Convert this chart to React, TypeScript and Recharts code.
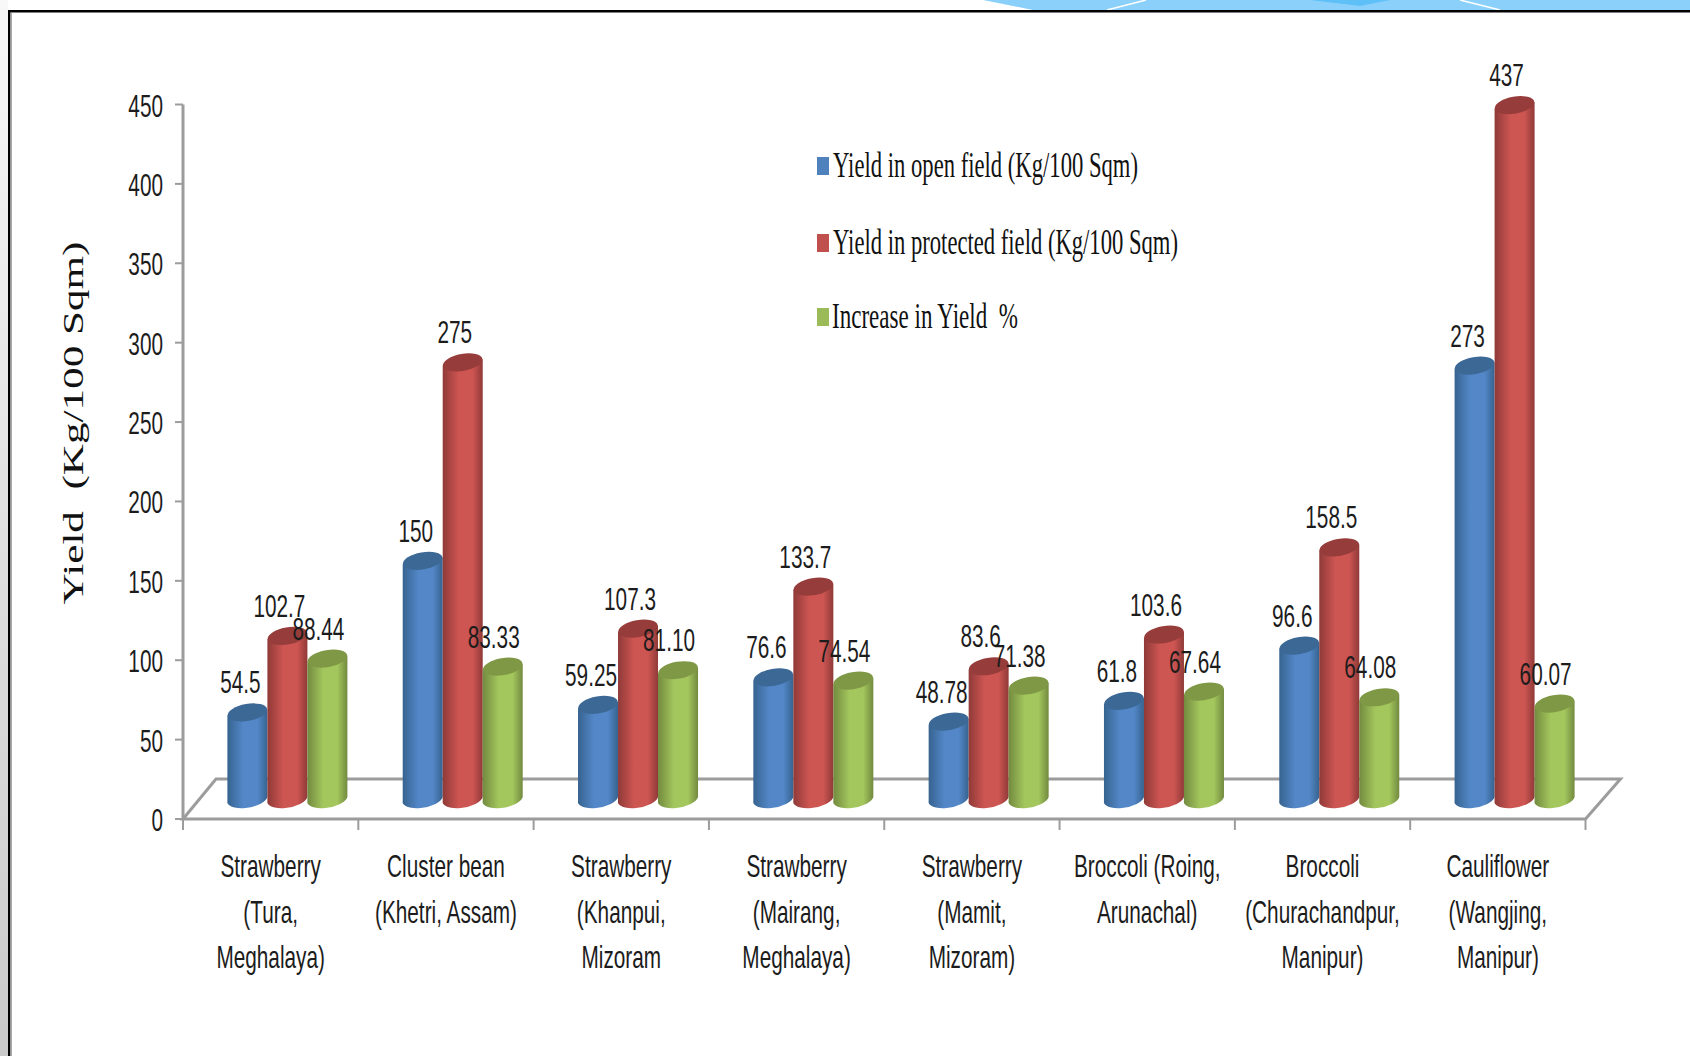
import { BarChart, Bar, XAxis, YAxis, Legend, LabelList, usePlotArea } from 'recharts'

const categories = [
  'Strawberry\n(Tura,\nMeghalaya)',
  'Cluster bean\n(Khetri, Assam)',
  'Strawberry\n(Khanpui,\nMizoram',
  'Strawberry\n(Mairang,\nMeghalaya)',
  'Strawberry\n(Mamit,\nMizoram)',
  'Broccoli (Roing,\nArunachal)',
  'Broccoli\n(Churachandpur,\nManipur)',
  'Cauliflower\n(Wangjing,\nManipur)',
]
const openField = [54.5, 150, 59.25, 76.6, 48.78, 61.8, 96.6, 273]
const protectedField = [102.7, 275, 107.3, 133.7, 83.6, 103.6, 158.5, 437]
const increase = [88.44, 83.33, 81.1, 74.54, 71.38, 67.64, 64.08, 60.07]
const yTicks = [0, 50, 100, 150, 200, 250, 300, 350, 400, 450]

const seriesNames = [
  'Yield in open field (Kg/100 Sqm)',
  'Yield in protected field (Kg/100 Sqm)',
  'Increase in Yield  %',
]

const data = categories.map((name, i) => ({
  name,
  open: openField[i],
  prot: protectedField[i],
  inc: increase[i],
}))

// fake 3D depth of the Excel chart
const DX = 16
const DY = -20
const AXIS_GRAY = '#9c9c9c'
const NARROW = '"Liberation Sans", sans-serif'
const SERIF = '"Liberation Serif", serif'
const SQUEEZE = 0.67

const palette = [
  { id: 'gBlue', edge: '#36638f', mid: '#5387c8', top: '#3c6896', swatch: '#4f81bd' },
  { id: 'gRed', edge: '#8f3a38', mid: '#cd5552', top: '#963c3a', swatch: '#c0504d' },
  { id: 'gGreen', edge: '#728a3f', mid: '#a3c65d', top: '#7f9846', swatch: '#9bbb59' },
]

function Narrow({ x, y, anchor = 'middle', children }: any) {
  return (
    <text
      transform={`translate(${x},${y}) scale(${SQUEEZE},1)`}
      textAnchor={anchor}
      fontFamily={NARROW}
      fontSize={31}
      fill="#1c1c1c"
    >
      {children}
    </text>
  )
}

function cylinder(colorIdx: number) {
  return (props: any) => {
    const { x, y, width, height } = props
    const c = palette[colorIdx]
    const left = x + DX
    const top = y + DY
    const cx = left + width / 2
    const bottom = top + height
    const rx = width / 2
    const ry = 8.5
    return (
      <g>
        <path
          d={`M${left},${top + 3} L${left},${bottom + 2} A${rx},${ry} -10 0 0 ${left + width},${bottom - 2} L${left + width},${top - 3} Z`}
          fill={`url(#${c.id})`}
        />
        <ellipse cx={cx} cy={top} rx={rx} ry={ry} fill={c.top} transform={`rotate(-10 ${cx} ${top})`} />
      </g>
    )
  }
}

function Floor({ count }: { count: number }) {
  const plot = usePlotArea()
  if (!plot) return null
  const left = plot.x
  const right = plot.x + plot.width
  const front = plot.y + plot.height
  const back = front - 40
  const band = plot.width / count
  return (
    <g stroke={AXIS_GRAY} strokeWidth={3} fill="none">
      <path d={`M${left},${front} L${left + 33},${back} L${right + 35},${back} L${right},${front} Z`} />
      {Array.from({ length: count + 1 }, (_, i) => (
        <line key={i} x1={left + band * i} x2={left + band * i} y1={front} y2={front + 11} strokeWidth={2} />
      ))}
    </g>
  )
}

function XTick({ x, y, payload }: any) {
  const lines = String(payload.value).split('\n')
  return (
    <g>
      {lines.map((line: string, i: number) => (
        <Narrow key={i} x={x} y={y + 50 + i * 45.5}>
          {line}
        </Narrow>
      ))}
    </g>
  )
}

function YTick({ x, y, payload }: any) {
  return (
    <Narrow x={x - 1} y={y + 12} anchor="end">
      {payload.value}
    </Narrow>
  )
}

function ValueLabel({ x, y, width, value, decimals, shift = 0 }: any) {
  const text = decimals ? Number(value).toFixed(decimals) : String(value)
  return (
    <Narrow x={x + width / 2 + 9 + shift} y={y - 39}>
      {text}
    </Narrow>
  )
}

const legendRows = [
  { y: 166, x: 833, w: 305 },
  { y: 243, x: 833, w: 345 },
  { y: 317, x: 832, w: 186 },
]

function LegendBox() {
  return (
    <svg width={1690} height={1056} style={{ display: 'block' }}>
      {seriesNames.map((name, i) => (
        <g key={name}>
          <rect x={817} y={legendRows[i].y - 9} width={12} height={18} fill={palette[i].swatch} />
          <text
            x={legendRows[i].x}
            y={legendRows[i].y + 11}
            fontFamily={SERIF}
            fontSize={35}
            fill="#111"
            textLength={legendRows[i].w}
            lengthAdjust="spacingAndGlyphs"
            style={{ whiteSpace: 'pre' }}
          >
            {name}
          </text>
        </g>
      ))}
    </svg>
  )
}

function AxisTitle() {
  return (
    <text
      transform="translate(83,423) rotate(-90)"
      textAnchor="middle"
      fontFamily={SERIF}
      fontSize={29}
      fill="#111"
      textLength={363}
      lengthAdjust="spacingAndGlyphs"
      style={{ whiteSpace: 'pre' }}
    >
      {'Yield  (Kg/100 Sqm)'}
    </text>
  )
}

function Frame() {
  return (
    <svg width={1690} height={1056} style={{ position: 'absolute', left: 0, top: 0 }}>
      <defs>
        <linearGradient id="sideFade" x1="0" y1="0" x2="0" y2="1">
          <stop offset="0" stopColor="#f8f8f8" />
          <stop offset="1" stopColor="#c9c9c9" />
        </linearGradient>
      </defs>
      <rect x={0} y={0} width={8} height={1056} fill="url(#sideFade)" />
      <polygon points="983,0 1690,0 1690,10 1033,10" fill="#8bd0fa" />
      <polygon points="1310,0 1390,0 1360,6" fill="#5fc0f8" />
      <path d="M1107,10 L1146,0 M1460,0 L1500,10" stroke="#fff" strokeWidth={1.5} />
      <rect x={8} y={10} width={1682} height={2.5} fill="#000" />
      <rect x={8} y={10} width={2.5} height={1046} fill="#000" />
      <rect x={10.5} y={12.5} width={1.5} height={1044} fill="#aaa" />
    </svg>
  )
}

export default function App() {
  return (
    <div style={{ position: 'absolute', left: 0, top: 0, width: 1690, height: 1056, background: '#fff', overflow: 'hidden' }}>
      <Frame />
      <div style={{ position: 'absolute', left: 0, top: 0 }}>
        <BarChart
          width={1690}
          height={1056}
          data={data}
          margin={{ top: 104.5, right: 104.5, left: 0, bottom: 0 }}
          barCategoryGap="16.2%"
          barGap={0}
        >
          <defs>
            {palette.map(c => (
              <linearGradient key={c.id} id={c.id} x1="0" y1="0" x2="1" y2="0">
                <stop offset="0" stopColor={c.edge} />
                <stop offset="0.4" stopColor={c.mid} />
                <stop offset="0.75" stopColor={c.mid} />
                <stop offset="1" stopColor={c.edge} />
              </linearGradient>
            ))}
          </defs>
          <Floor count={categories.length} />
          <XAxis
            dataKey="name"
            height={237}
            interval={0}
            axisLine={false}
            tickLine={false}
            tick={<XTick />}
          />
          <YAxis
            width={183}
            domain={[0, 450]}
            ticks={yTicks}
            interval={0}
            axisLine={{ stroke: AXIS_GRAY, strokeWidth: 3 }}
            tickLine={{ stroke: AXIS_GRAY, strokeWidth: 2 }}
            tickSize={8}
            tickMargin={11}
            tick={<YTick />}
            label={() => <AxisTitle />}
          />
          <Legend
            layout="horizontal"
            align="center"
            verticalAlign="middle"
            wrapperStyle={{ position: 'absolute', left: 0, top: 0, width: 1690, height: 1056, pointerEvents: 'none' }}
            content={() => <LegendBox />}
          />
          <Bar dataKey="open" name={seriesNames[0]} fill={palette[0].swatch} shape={cylinder(0)} isAnimationActive={false}>
            <LabelList dataKey="open" content={<ValueLabel />} />
          </Bar>
          <Bar dataKey="prot" name={seriesNames[1]} fill={palette[1].swatch} shape={cylinder(1)} isAnimationActive={false}>
            <LabelList dataKey="prot" content={<ValueLabel shift={-1} />} />
          </Bar>
          <Bar dataKey="inc" name={seriesNames[2]} fill={palette[2].swatch} shape={cylinder(2)} isAnimationActive={false}>
            <LabelList dataKey="inc" content={<ValueLabel decimals={2} shift={-2} />} />
          </Bar>
        </BarChart>
      </div>
    </div>
  )
}
